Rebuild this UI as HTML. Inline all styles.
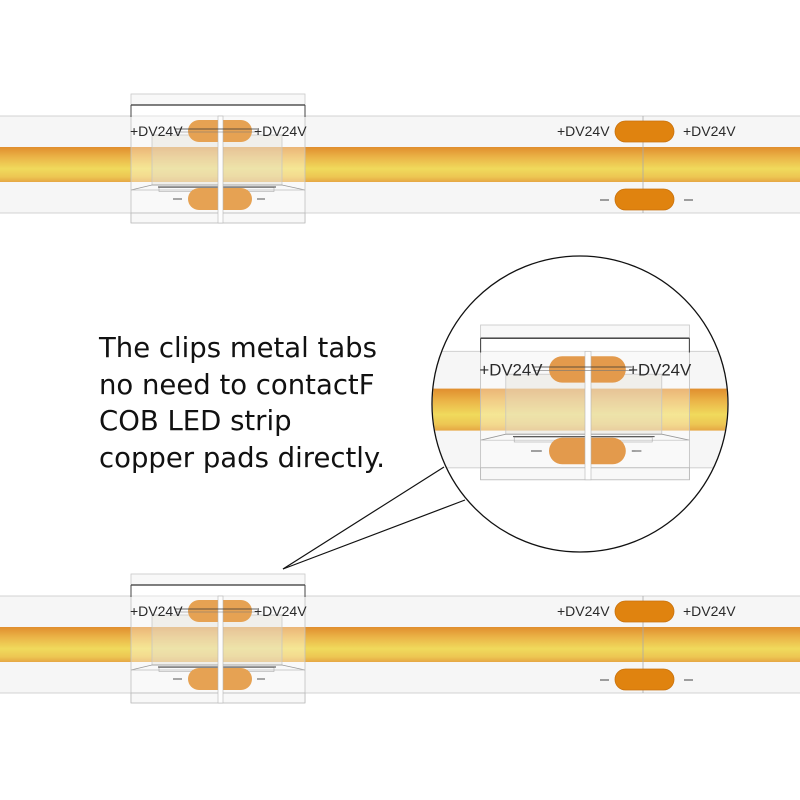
<!DOCTYPE html>
<html><head><meta charset="utf-8">
<style>
html,body{margin:0;padding:0;background:#fff;}
svg{display:block;}
.lbl{font-family:"Liberation Sans",Arial,sans-serif;font-size:14px;fill:#2a2a2a;}
.big{font-family:"DejaVu Sans","Liberation Sans",sans-serif;font-size:27.5px;fill:#111;}
</style></head>
<body>
<svg width="800" height="800" viewBox="0 0 800 800" xmlns="http://www.w3.org/2000/svg">
<defs>
  <linearGradient id="og" x1="0" y1="0" x2="0" y2="1">
    <stop offset="0" stop-color="#e08e2e"/>
    <stop offset="0.3" stop-color="#ebb548"/>
    <stop offset="0.62" stop-color="#f0da5c"/>
    <stop offset="0.85" stop-color="#edc653"/>
    <stop offset="1" stop-color="#e6a743"/>
  </linearGradient>
  <clipPath id="cc"><circle cx="580" cy="404" r="147.3"/></clipPath>
</defs>
<rect width="800" height="800" fill="#fff"/>

<!-- ===== TOP STRIP ===== -->
<g>
  <rect x="-2" y="116" width="804" height="97" fill="#f6f6f6" stroke="#d3d3d3" stroke-width="1"/>
  <rect x="-2" y="147" width="804" height="35" fill="url(#og)"/>
  <line x1="643" y1="116" x2="643" y2="213" stroke="#aaa" stroke-width="0.8"/>
  <rect x="615" y="121" width="59" height="21" rx="10.5" fill="#e0830f" stroke="#c9720c" stroke-width="0.8"/>
  <rect x="615" y="189" width="59" height="21" rx="10.5" fill="#e0830f" stroke="#c9720c" stroke-width="0.8"/>
  <text class="lbl" x="557" y="136">+DV24V</text>
  <text class="lbl" x="683" y="136">+DV24V</text>
  <line x1="600" y1="200" x2="609" y2="200" stroke="#444" stroke-width="1"/>
  <line x1="684" y1="200" x2="693" y2="200" stroke="#444" stroke-width="1"/>
  <g>
    <rect x="131" y="94" width="174" height="11" fill="#f8f8f8" stroke="#c8c8c8" stroke-width="0.8"/>
    <rect x="131" y="105" width="174" height="118" fill="#ffffff" fill-opacity="0.35"/>
    <rect x="152" y="135" width="130" height="50" fill="#e0dcd0" fill-opacity="0.35" stroke="#c4c4c4" stroke-width="0.7"/>
    <line x1="131" y1="105" x2="305" y2="105" stroke="#333" stroke-width="1.3"/>
    <line x1="131" y1="105" x2="131" y2="117" stroke="#444" stroke-width="1"/>
    <line x1="305" y1="105" x2="305" y2="117" stroke="#444" stroke-width="1"/>
    <line x1="131" y1="117" x2="131" y2="223" stroke="#c0c0c0" stroke-width="0.8"/>
    <line x1="305" y1="117" x2="305" y2="223" stroke="#c0c0c0" stroke-width="0.8"/>
    <polyline points="131,190 152,185 282,185 305,190" fill="none" stroke="#999" stroke-width="0.8"/>
    <line x1="131" y1="190" x2="305" y2="190" stroke="#bbb" stroke-width="0.7"/>
    <rect x="159" y="187.5" width="115" height="4" fill="none" stroke="#aaa" stroke-width="0.6"/>
    <line x1="158" y1="187" x2="276" y2="187" stroke="#444" stroke-width="0.9"/>
    <rect x="131" y="213" width="174" height="10" fill="#f8f8f8" stroke="#b8b8b8" stroke-width="0.8"/>
    <path d="M218,120 L199,120 A11,11 0 0 0 199,142 L218,142 Z" fill="#e6a253"/>
    <path d="M223,120 L241,120 A11,11 0 0 1 241,142 L223,142 Z" fill="#e6a253"/>
    <path d="M218,188 L199,188 A11,11 0 0 0 199,210 L218,210 Z" fill="#e6a253"/>
    <path d="M223,188 L241,188 A11,11 0 0 1 241,210 L223,210 Z" fill="#e6a253"/>
    <rect x="218" y="116" width="5" height="107" fill="#fdfdfd" stroke="#b5b5b5" stroke-width="0.6"/>
    <line x1="175" y1="129" x2="257" y2="129" stroke="#333" stroke-width="0.8"/>
    <line x1="175" y1="132" x2="257" y2="132" stroke="#777" stroke-width="0.6"/>
    <text class="lbl" x="130" y="136">+DV24V</text>
    <text class="lbl" x="254" y="136">+DV24V</text>
    <line x1="173" y1="199" x2="182" y2="199" stroke="#555" stroke-width="1"/>
    <line x1="257" y1="199" x2="265" y2="199" stroke="#555" stroke-width="1"/>
  </g>
</g>

<!-- ===== BOTTOM STRIP ===== -->
<g transform="translate(0,480)">
  <rect x="-2" y="116" width="804" height="97" fill="#f6f6f6" stroke="#d3d3d3" stroke-width="1"/>
  <rect x="-2" y="147" width="804" height="35" fill="url(#og)"/>
  <line x1="643" y1="116" x2="643" y2="213" stroke="#aaa" stroke-width="0.8"/>
  <rect x="615" y="121" width="59" height="21" rx="10.5" fill="#e0830f" stroke="#c9720c" stroke-width="0.8"/>
  <rect x="615" y="189" width="59" height="21" rx="10.5" fill="#e0830f" stroke="#c9720c" stroke-width="0.8"/>
  <text class="lbl" x="557" y="136">+DV24V</text>
  <text class="lbl" x="683" y="136">+DV24V</text>
  <line x1="600" y1="200" x2="609" y2="200" stroke="#444" stroke-width="1"/>
  <line x1="684" y1="200" x2="693" y2="200" stroke="#444" stroke-width="1"/>
  <g>
    <rect x="131" y="94" width="174" height="11" fill="#f8f8f8" stroke="#c8c8c8" stroke-width="0.8"/>
    <rect x="131" y="105" width="174" height="118" fill="#ffffff" fill-opacity="0.35"/>
    <rect x="152" y="135" width="130" height="50" fill="#e0dcd0" fill-opacity="0.35" stroke="#c4c4c4" stroke-width="0.7"/>
    <line x1="131" y1="105" x2="305" y2="105" stroke="#333" stroke-width="1.3"/>
    <line x1="131" y1="105" x2="131" y2="117" stroke="#444" stroke-width="1"/>
    <line x1="305" y1="105" x2="305" y2="117" stroke="#444" stroke-width="1"/>
    <line x1="131" y1="117" x2="131" y2="223" stroke="#c0c0c0" stroke-width="0.8"/>
    <line x1="305" y1="117" x2="305" y2="223" stroke="#c0c0c0" stroke-width="0.8"/>
    <polyline points="131,190 152,185 282,185 305,190" fill="none" stroke="#999" stroke-width="0.8"/>
    <line x1="131" y1="190" x2="305" y2="190" stroke="#bbb" stroke-width="0.7"/>
    <rect x="159" y="187.5" width="115" height="4" fill="none" stroke="#aaa" stroke-width="0.6"/>
    <line x1="158" y1="187" x2="276" y2="187" stroke="#444" stroke-width="0.9"/>
    <rect x="131" y="213" width="174" height="10" fill="#f8f8f8" stroke="#b8b8b8" stroke-width="0.8"/>
    <path d="M218,120 L199,120 A11,11 0 0 0 199,142 L218,142 Z" fill="#e6a253"/>
    <path d="M223,120 L241,120 A11,11 0 0 1 241,142 L223,142 Z" fill="#e6a253"/>
    <path d="M218,188 L199,188 A11,11 0 0 0 199,210 L218,210 Z" fill="#e6a253"/>
    <path d="M223,188 L241,188 A11,11 0 0 1 241,210 L223,210 Z" fill="#e6a253"/>
    <rect x="218" y="116" width="5" height="107" fill="#fdfdfd" stroke="#b5b5b5" stroke-width="0.6"/>
    <line x1="175" y1="129" x2="257" y2="129" stroke="#333" stroke-width="0.8"/>
    <line x1="175" y1="132" x2="257" y2="132" stroke="#777" stroke-width="0.6"/>
    <text class="lbl" x="130" y="136">+DV24V</text>
    <text class="lbl" x="254" y="136">+DV24V</text>
    <line x1="173" y1="199" x2="182" y2="199" stroke="#555" stroke-width="1"/>
    <line x1="257" y1="199" x2="265" y2="199" stroke="#555" stroke-width="1"/>
  </g>
</g>

<!-- ===== CALLOUT LINES ===== -->
<line x1="283" y1="569" x2="444" y2="467" stroke="#111" stroke-width="1.2"/>
<line x1="283" y1="569" x2="465" y2="500" stroke="#111" stroke-width="1.2"/>

<!-- ===== MAGNIFIER CIRCLE ===== -->
<circle cx="580" cy="404" r="148" fill="#fff"/>
<g clip-path="url(#cc)">
  <g transform="translate(585,325) scale(1.2) translate(-218,-94)">
    <rect x="-400" y="116" width="1400" height="97" fill="#f6f6f6" stroke="#d3d3d3" stroke-width="0.9"/>
    <rect x="-400" y="147" width="1400" height="35" fill="url(#og)"/>
    <rect x="131" y="94" width="174" height="11" fill="#f8f8f8" stroke="#c8c8c8" stroke-width="0.7"/>
    <rect x="131" y="105" width="174" height="118" fill="#ffffff" fill-opacity="0.35"/>
    <rect x="152" y="135" width="130" height="50" fill="#e0dcd0" fill-opacity="0.35" stroke="#c4c4c4" stroke-width="0.6"/>
    <line x1="131" y1="105" x2="305" y2="105" stroke="#333" stroke-width="1.1"/>
    <line x1="131" y1="105" x2="131" y2="117" stroke="#444" stroke-width="0.9"/>
    <line x1="305" y1="105" x2="305" y2="117" stroke="#444" stroke-width="0.9"/>
    <line x1="131" y1="117" x2="131" y2="223" stroke="#c0c0c0" stroke-width="0.7"/>
    <line x1="305" y1="117" x2="305" y2="223" stroke="#c0c0c0" stroke-width="0.7"/>
    <polyline points="131,190 152,185 282,185 305,190" fill="none" stroke="#999" stroke-width="0.7"/>
    <line x1="131" y1="190" x2="305" y2="190" stroke="#bbb" stroke-width="0.6"/>
    <rect x="159" y="187.5" width="115" height="4" fill="none" stroke="#aaa" stroke-width="0.5"/>
    <line x1="158" y1="187" x2="276" y2="187" stroke="#444" stroke-width="0.8"/>
    <rect x="131" y="213" width="174" height="10" fill="#f8f8f8" stroke="#b8b8b8" stroke-width="0.7"/>
    <path d="M218,120 L199,120 A11,11 0 0 0 199,142 L218,142 Z" fill="#e39a4c"/>
    <path d="M223,120 L241,120 A11,11 0 0 1 241,142 L223,142 Z" fill="#e39a4c"/>
    <path d="M218,188 L199,188 A11,11 0 0 0 199,210 L218,210 Z" fill="#e39a4c"/>
    <path d="M223,188 L241,188 A11,11 0 0 1 241,210 L223,210 Z" fill="#e39a4c"/>
    <rect x="218" y="116" width="5" height="107" fill="#fdfdfd" stroke="#b5b5b5" stroke-width="0.5"/>
    <line x1="175" y1="129" x2="257" y2="129" stroke="#333" stroke-width="0.7"/>
    <line x1="175" y1="132" x2="257" y2="132" stroke="#777" stroke-width="0.5"/>
    <text class="lbl" x="130" y="136">+DV24V</text>
    <text class="lbl" x="254" y="136">+DV24V</text>
    <line x1="173" y1="199" x2="182" y2="199" stroke="#555" stroke-width="0.9"/>
    <line x1="257" y1="199" x2="265" y2="199" stroke="#555" stroke-width="0.9"/>
  </g>
</g>
<circle cx="580" cy="404" r="148" fill="none" stroke="#111" stroke-width="1.3"/>

<!-- ===== CAPTION ===== -->
<text class="big" x="99" y="357">The clips metal tabs</text>
<text class="big" x="99" y="394">no need to contactF</text>
<text class="big" x="99" y="430">COB LED strip</text>
<text class="big" x="99" y="467">copper pads directly.</text>
</svg>
</body></html>
